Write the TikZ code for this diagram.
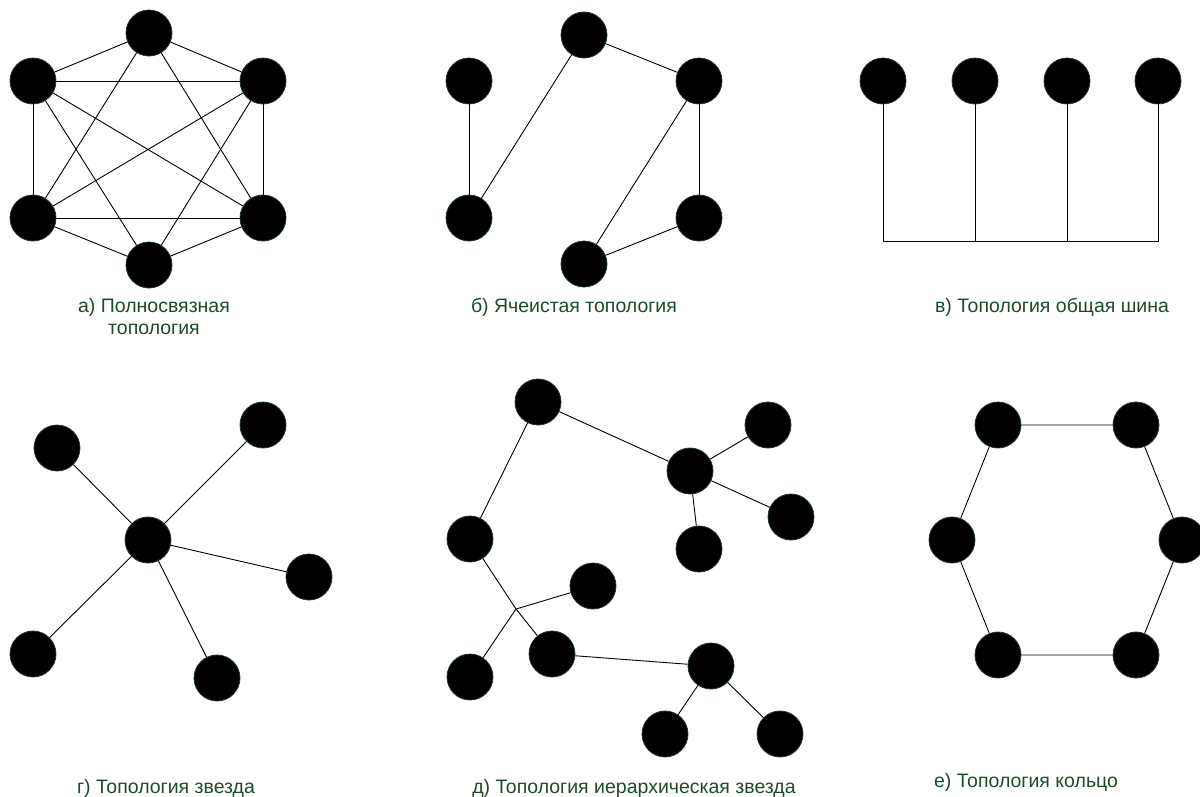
\documentclass[tikz,border=0pt]{standalone}
\usepackage{fontspec}
\setmainfont{Liberation Sans}
\usetikzlibrary{positioning}
\definecolor{labelGreen}{HTML}{1E4A2C}
\definecolor{rimGreen}{HTML}{1F3A26}

\begin{document}
\begin{tikzpicture}[
    x=1pt, y=-1pt,
    nd/.style={circle, fill=black, draw=rimGreen, line width=0.8pt, minimum size=46pt, inner sep=0pt},
    ln/.style={line width=0.9pt, black},
    lbl/.style={font=\fontsize{19.5}{22}\selectfont, text=labelGreen, align=center, anchor=base, inner sep=0pt}
  ]
    \useasboundingbox (0,0) rectangle (1200,796);

    % a) full mesh
    \node[nd] (a1) at (149,33) {};
    \node[nd] (a2) at (33,81) {};
    \node[nd] (a3) at (263,81) {};
    \node[nd] (a4) at (33,218) {};
    \node[nd] (a5) at (263,218) {};
    \node[nd] (a6) at (149,265) {};
    \draw[ln] (a1) -- (a2);
    \draw[ln] (a1) -- (a3);
    \draw[ln] (a1) -- (a4);
    \draw[ln] (a1) -- (a5);
    \draw[ln] (a2) -- (a3);
    \draw[ln] (a2) -- (a4);
    \draw[ln] (a2) -- (a5);
    \draw[ln] (a2) -- (a6);
    \draw[ln] (a3) -- (a4);
    \draw[ln] (a3) -- (a5);
    \draw[ln] (a3) -- (a6);
    \draw[ln] (a4) -- (a5);
    \draw[ln] (a4) -- (a6);
    \draw[ln] (a5) -- (a6);
    \node[lbl] (la) at (154,334) {а) Полносвязная\\топология};

    % b) mesh
    \node[nd] (b1) at (469,81) {};
    \node[nd] (b2) at (584,35) {};
    \node[nd] (b3) at (699,81) {};
    \node[nd] (b4) at (469,218) {};
    \node[nd] (b5) at (699,218) {};
    \node[nd] (b6) at (584,264) {};
    \draw[ln] (b1) -- (b4);
    \draw[ln] (b4) -- (b2);
    \draw[ln] (b2) -- (b3);
    \draw[ln] (b3) -- (b5);
    \draw[ln] (b3) -- (b6);
    \draw[ln] (b6) -- (b5);
    \node[lbl] (lb) at (574,312) {б) Ячеистая топология};

    % c) bus
    \node[nd] (c1) at (883,81) {};
    \node[nd] (c2) at (975,81) {};
    \node[nd] (c3) at (1067,81) {};
    \node[nd] (c4) at (1158,81) {};
    \coordinate (bus1) at (883,241);
    \coordinate (bus2) at (975,241);
    \coordinate (bus3) at (1067,241);
    \coordinate (bus4) at (1158,241);
    \draw[ln] (c1) -- (bus1) -- (bus4) -- (c4);
    \draw[ln] (c2) -- (bus2);
    \draw[ln] (c3) -- (bus3);
    \node[lbl] (lc) at (1052,312) {в) Топология общая шина};

    % d) star
    \node[nd] (s0) at (148,540) {};
    \node[nd] (s1) at (57,448) {};
    \node[nd] (s2) at (263,425) {};
    \node[nd] (s3) at (309,577) {};
    \node[nd] (s4) at (33,654) {};
    \node[nd] (s5) at (217,678) {};
    \foreach \k in {1,...,5}
      \draw[ln] (s0) -- (s\k);
    \node[lbl] (ld) at (166,793) {г) Топология звезда};

    % e) hierarchical star
    \node[nd] (h1) at (538,402) {};
    \node[nd] (h2) at (690,471) {};
    \node[nd] (h3) at (768,425) {};
    \node[nd] (h4) at (791,517) {};
    \node[nd] (h5) at (699,549) {};
    \node[nd] (h6) at (470,539) {};
    \node[nd] (h7) at (593,586) {};
    \coordinate (hj) at (516,609);
    \node[nd] (h8) at (552,654) {};
    \node[nd] (h9) at (470,677) {};
    \node[nd] (h10) at (711,666) {};
    \node[nd] (h11) at (665,734) {};
    \node[nd] (h12) at (780,734) {};
    \draw[ln] (h1) -- (h6);
    \draw[ln] (h1) -- (h2);
    \draw[ln] (h2) -- (h3);
    \draw[ln] (h2) -- (h4);
    \draw[ln] (h2) -- (h5);
    \draw[ln] (h6) -- (hj) -- (h8);
    \draw[ln] (hj) -- (h7);
    \draw[ln] (hj) -- (h9);
    \draw[ln] (h8) -- (h10);
    \draw[ln] (h10) -- (h11);
    \draw[ln] (h10) -- (h12);
    \node[lbl] (le) at (634,793) {д) Топология иерархическая звезда};

    % f) ring
    \node[nd] (r1) at (998,425) {};
    \node[nd] (r2) at (1136,425) {};
    \node[nd] (r3) at (1182,540) {};
    \node[nd] (r4) at (1136,655) {};
    \node[nd] (r5) at (998,655) {};
    \node[nd] (r6) at (952,540) {};
    \draw[ln] (r1) -- (r2) -- (r3) -- (r4) -- (r5) -- (r6) -- (r1);
    \node[lbl] (lf) at (1026,787) {е) Топология кольцо};
\end{tikzpicture}
\end{document}
